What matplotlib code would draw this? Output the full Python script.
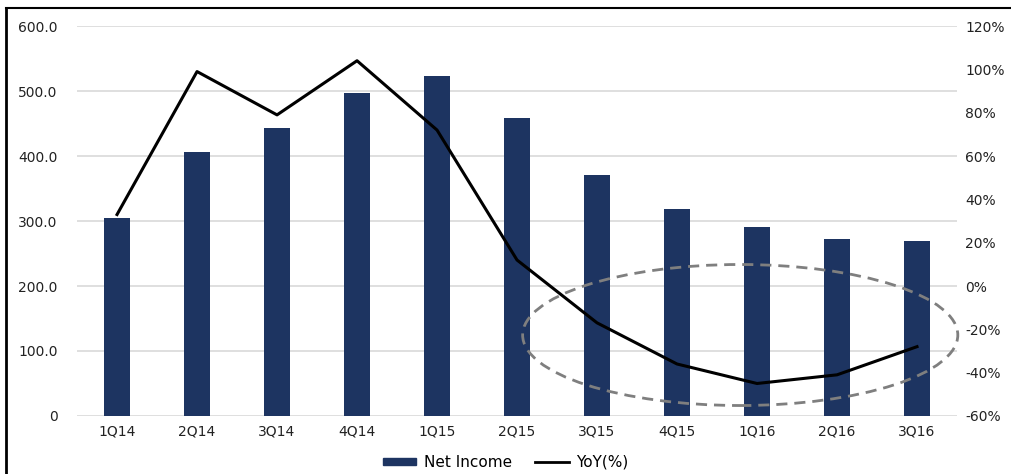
import matplotlib.pyplot as plt
import numpy as np
from matplotlib.patches import Ellipse
from matplotlib.lines import Line2D

quarters = ['1Q14', '2Q14', '3Q14', '4Q14', '1Q15', '2Q15', '3Q15', '4Q15', '1Q16', '2Q16', '3Q16']
net_income = [305, 406, 443, 497, 523, 458, 371, 318, 291, 272, 269]
yoy = [33, 99, 79, 104, 72, 12, -17, -36, -45, -41, -28]

left_ticks = [0, 100, 200, 300, 400, 500, 600]
left_labels = ['0', '100.0', '200.0', '300.0', '400.0', '500.0', '600.0']
right_ticks = [-60, -40, -20, 0, 20, 40, 60, 80, 100, 120]

bar_color = '#1d3461'
plt.rcParams['font.family'] = 'DejaVu Sans'

fig = plt.figure(figsize=(10.11, 4.74), dpi=100)
ax = fig.add_axes([0.0762, 0.1224, 0.8704, 0.8226])
ax2 = ax.twinx()

x = np.arange(len(quarters))
ax.bar(x, net_income, width=0.33, color=bar_color, zorder=2)
ax.set_xlim(-0.5, len(quarters) - 0.5)
ax.set_ylim(0, 600)
ax.set_yticks(left_ticks)
ax.set_yticklabels(left_labels)
ax.set_xticks(x)
ax.set_xticklabels(quarters)
ax.grid(axis='y', color='#d9d9d9', linewidth=1.2, zorder=0)
ax.set_axisbelow(True)

ax2.plot(x, yoy, color='black', linewidth=2.2, zorder=3)
ax2.set_ylim(-60, 120)
ax2.set_yticks(right_ticks)
ax2.set_yticklabels([f'{t}%' for t in right_ticks])

for a in (ax, ax2):
    for s in a.spines.values():
        s.set_visible(False)
    a.tick_params(length=0, labelsize=10, colors='#222222')
ax.tick_params(axis='y', pad=14)
ax.tick_params(axis='x', pad=6)
ax2.tick_params(axis='y', pad=6)

# dashed ellipse highlighting recent quarters
ell = Ellipse((7.79, 124.6), width=5.44, height=217, transform=ax.transData,
              fill=False, edgecolor='#7f7f7f', linestyle=(0, (4, 2.5)),
              linewidth=2, clip_on=False, zorder=4)
ax2.add_patch(ell)

# frame lines (left and top)
fig.add_artist(Line2D([0.0064, 0.0064], [0, 0.983], transform=fig.transFigure, color='black', linewidth=2))
fig.add_artist(Line2D([0.0064, 1.0], [0.983, 0.983], transform=fig.transFigure, color='black', linewidth=1.5))

handles = [plt.Rectangle((0, 0), 1, 1, color=bar_color),
           Line2D([0], [0], color='black', linewidth=2)]
fig.legend(handles, ['Net Income', 'YoY(%)'], loc='center', bbox_to_anchor=(0.5, 0.025),
           ncol=2, frameon=False, fontsize=11, handlelength=2.2, handleheight=0.35,
           columnspacing=1.5, handletextpad=0.5)

fig.savefig('out.png', dpi=100)
